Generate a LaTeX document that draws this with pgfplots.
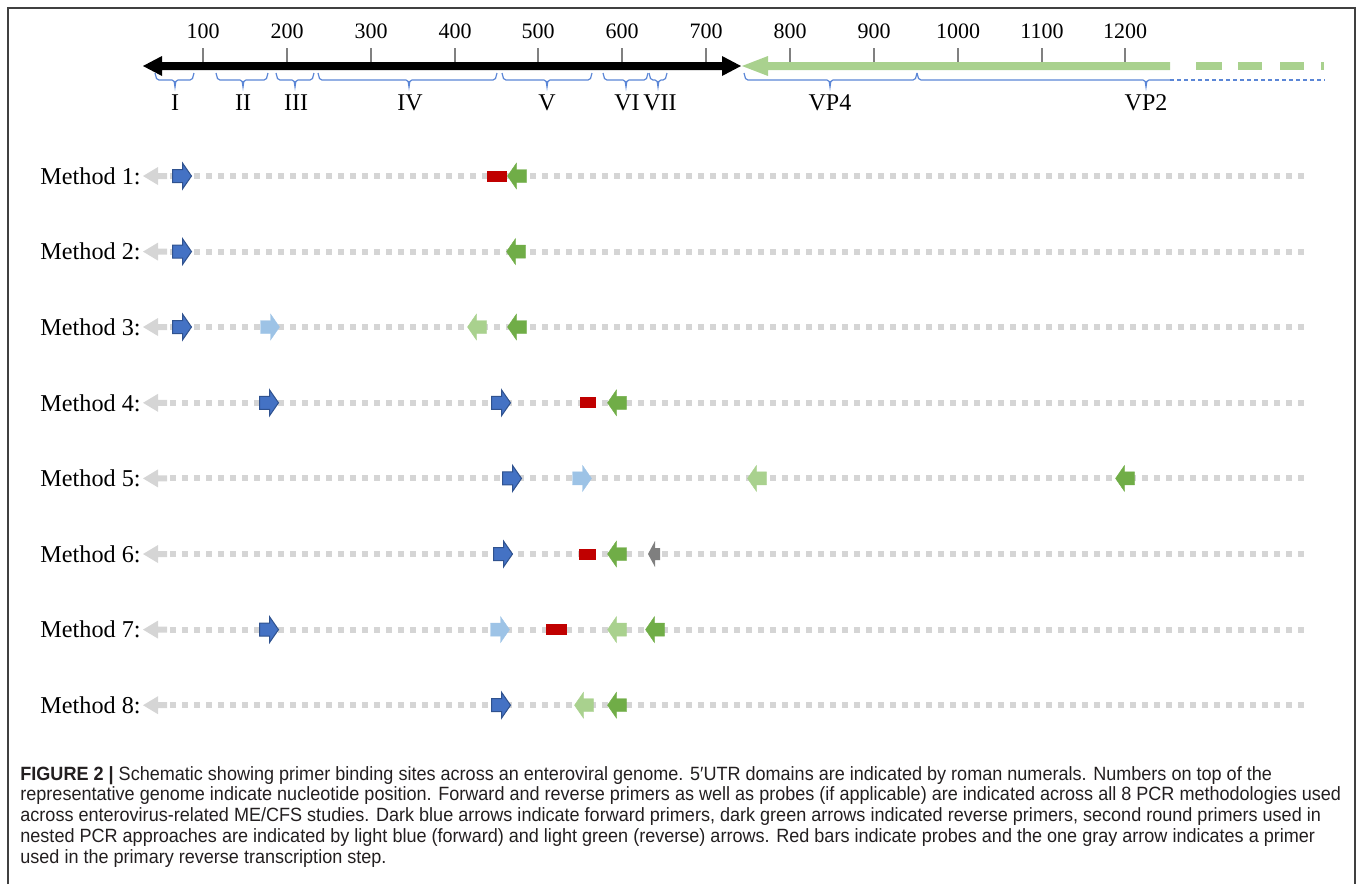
\documentclass[border=0pt]{standalone}
\usepackage{fontspec}
\setmainfont{Liberation Serif}
\newfontfamily\capfont[FakeStretch=0.94]{Liberation Sans}
\usepackage{pgfplots}
\pgfplotsset{compat=1.18}

\definecolor{fwdblue}{HTML}{4472C4}
\definecolor{fwdedge}{HTML}{2F528F}
\definecolor{nestblue}{HTML}{9DC3E6}
\definecolor{revgreen}{HTML}{70AD47}
\definecolor{nestgreen}{HTML}{A9D18E}
\definecolor{probered}{HTML}{C00000}
\definecolor{rtgray}{HTML}{7F7F7F}
\definecolor{trackgray}{HTML}{D5D5D5}
\definecolor{bracebl}{HTML}{5B86D6}
\definecolor{framegray}{HTML}{404040}
\definecolor{captext}{HTML}{231F20}

% 1 px of the reference = 0.5pt; primer arrows 19px long, head 26px high
\pgfdeclareplotmark{fwd}{%
  \pgfpathmoveto{\pgfpoint{-4.75pt}{3.25pt}}%
  \pgfpathlineto{\pgfpoint{0.25pt}{3.25pt}}%
  \pgfpathlineto{\pgfpoint{0.25pt}{6.5pt}}%
  \pgfpathlineto{\pgfpoint{4.75pt}{0pt}}%
  \pgfpathlineto{\pgfpoint{0.25pt}{-6.5pt}}%
  \pgfpathlineto{\pgfpoint{0.25pt}{-3.25pt}}%
  \pgfpathlineto{\pgfpoint{-4.75pt}{-3.25pt}}%
  \pgfpathclose\pgfusepathqfillstroke}
\pgfdeclareplotmark{rev}{%
  \pgfpathmoveto{\pgfpoint{4.75pt}{3.25pt}}%
  \pgfpathlineto{\pgfpoint{-0.25pt}{3.25pt}}%
  \pgfpathlineto{\pgfpoint{-0.25pt}{6.5pt}}%
  \pgfpathlineto{\pgfpoint{-4.75pt}{0pt}}%
  \pgfpathlineto{\pgfpoint{-0.25pt}{-6.5pt}}%
  \pgfpathlineto{\pgfpoint{-0.25pt}{-3.25pt}}%
  \pgfpathlineto{\pgfpoint{4.75pt}{-3.25pt}}%
  \pgfpathclose\pgfusepathqfillstroke}
\pgfdeclareplotmark{rt}{%
  \pgfpathmoveto{\pgfpoint{3pt}{3pt}}%
  \pgfpathlineto{\pgfpoint{0.5pt}{3pt}}%
  \pgfpathlineto{\pgfpoint{0.5pt}{6.5pt}}%
  \pgfpathlineto{\pgfpoint{-3pt}{0pt}}%
  \pgfpathlineto{\pgfpoint{0.5pt}{-6.5pt}}%
  \pgfpathlineto{\pgfpoint{0.5pt}{-3pt}}%
  \pgfpathlineto{\pgfpoint{3pt}{-3pt}}%
  \pgfpathclose\pgfusepathqfill}
% start of each track, tip at the plotted point
\pgfdeclareplotmark{trackstart}{%
  \pgfpathmoveto{\pgfpoint{0pt}{0pt}}%
  \pgfpathlineto{\pgfpoint{7.5pt}{4.5pt}}%
  \pgfpathlineto{\pgfpoint{7.5pt}{1.5pt}}%
  \pgfpathlineto{\pgfpoint{12pt}{1.5pt}}%
  \pgfpathlineto{\pgfpoint{12pt}{-1.5pt}}%
  \pgfpathlineto{\pgfpoint{7.5pt}{-1.5pt}}%
  \pgfpathlineto{\pgfpoint{7.5pt}{-4.5pt}}%
  \pgfpathclose\pgfusepathqfill}

% brace under a genome region: from #1 to #2, tip at #3
\newcommand\regionbrace[3]{%
  \edef\tmp{\noexpand\addplot[bracebl, line width=0.6pt] coordinates {
    (#1,73) (\fpeval{#1+1.5},78.5) (\fpeval{#1+4},80) (\fpeval{#3-3},80)
    (\fpeval{#3-0.8},81.5) (#3,87) (\fpeval{#3+0.8},81.5) (\fpeval{#3+3},80)
    (\fpeval{#2-4},80) (\fpeval{#2-1.5},78.5) (#2,73)};}\tmp}

\tikzset{
  numlab/.style={font=\fontsize{11pt}{13pt}\selectfont, inner sep=0pt},
  domlab/.style={font=\fontsize{12pt}{14pt}\selectfont, inner sep=0pt},
  methlab/.style={font=\fontsize{12.1pt}{14pt}\selectfont, inner sep=0pt, anchor=east},
  capline/.style={font=\capfont\fontsize{9.6pt}{12pt}\selectfont, text=captext, inner sep=0pt, anchor=base west},
}

\begin{document}
\begin{tikzpicture}
\begin{axis}[
    scale only axis,
    width=679pt, height=442pt,
    xmin=0, xmax=1358, ymin=0, ymax=884,
    y dir=reverse,
    hide axis,
    clip=false,
  ]
% page extent and frame
\addplot[draw=none] coordinates {(0,0) (1358,884)};
\addplot[framegray, line width=1pt] coordinates {(8,884) (8,8) (1355,8) (1355,884)};

% genome: 5'UTR (black, double headed) and capsid (green)
\addplot[fill=black, draw=none] coordinates {
  (143,66) (162,56) (162,62) (722,62) (722,56) (741,66)
  (722,76) (722,70) (162,70) (162,76)};
\addplot[fill=nestgreen, draw=none] coordinates {
  (742,66) (768,56) (768,62) (1170,62) (1170,70) (768,70) (768,76)};
\addplot[fill=nestgreen, draw=none] coordinates {(1196,62) (1222,62) (1222,70) (1196,70)};
\addplot[fill=nestgreen, draw=none] coordinates {(1238,62) (1262,62) (1262,70) (1238,70)};
\addplot[fill=nestgreen, draw=none] coordinates {(1280,62) (1304,62) (1304,70) (1280,70)};
\addplot[fill=nestgreen, draw=none] coordinates {(1321,62) (1324,62) (1324,70) (1321,70)};

% nucleotide ticks
\addplot[gray, line width=0.6pt, unbounded coords=jump] table {
x y
203 48
203 62
nan nan
287 48
287 62
nan nan
371 48
371 62
nan nan
455 48
455 62
nan nan
538 48
538 62
nan nan
622 48
622 62
nan nan
706 48
706 62
nan nan
790 48
790 62
nan nan
874 48
874 62
nan nan
958 48
958 62
nan nan
1042 48
1042 62
nan nan
1125 48
1125 62
};
\node[numlab] at (axis cs:203,31) {100};
\node[numlab] at (axis cs:287,31) {200};
\node[numlab] at (axis cs:371,31) {300};
\node[numlab] at (axis cs:455,31) {400};
\node[numlab] at (axis cs:538,31) {500};
\node[numlab] at (axis cs:622,31) {600};
\node[numlab] at (axis cs:706,31) {700};
\node[numlab] at (axis cs:790,31) {800};
\node[numlab] at (axis cs:874,31) {900};
\node[numlab] at (axis cs:958,31) {1000};
\node[numlab] at (axis cs:1042,31) {1100};
\node[numlab] at (axis cs:1125,31) {1200};

% 5'UTR domains and capsid proteins
\regionbrace{155}{194}{175}
\regionbrace{216}{268}{243}
\regionbrace{276}{314}{295}
\regionbrace{318}{497}{409}
\regionbrace{502}{592}{547}
\regionbrace{603}{648}{626}
\regionbrace{649}{667}{658}
\regionbrace{744}{917}{830}
\addplot[bracebl, line width=0.6pt] coordinates {
  (917,73) (918.5,78.5) (921,80) (1143,80) (1145.2,81.5) (1146,87)
  (1146.8,81.5) (1149,80) (1170,80)};
\addplot[bracebl, line width=0.6pt, dash pattern=on 2pt off 1.5pt] coordinates {(1170,80) (1325,80)};
\node[domlab] at (axis cs:175,103) {I};
\node[domlab] at (axis cs:243,103) {II};
\node[domlab] at (axis cs:296,103) {III};
\node[domlab] at (axis cs:410,103) {IV};
\node[domlab] at (axis cs:547,103) {V};
\node[domlab] at (axis cs:627,103) {VI};
\node[domlab] at (axis cs:660,103) {VII};
\node[domlab] at (axis cs:830,103) {VP4};
\node[domlab] at (axis cs:1146,103) {VP2};

% tracks of the 8 methods
\addplot[trackgray, line width=3pt, dash pattern=on 3pt off 3pt, unbounded coords=jump] table {
x y
170 176
1305 176
nan nan
170 251.6
1305 251.6
nan nan
170 327
1305 327
nan nan
170 402.8
1305 402.8
nan nan
170 478.4
1305 478.4
nan nan
170 554
1305 554
nan nan
170 629.6
1305 629.6
nan nan
170 705.2
1305 705.2
};
\addplot[only marks, mark=trackstart, mark options={fill=trackgray, draw=none}] coordinates {
  (143,176) (143,251.6) (143,327) (143,402.8) (143,478.4) (143,554) (143,629.6) (143,705.2)};
\node[methlab] at (axis cs:141,176) {Method 1:};
\node[methlab] at (axis cs:141,251.6) {Method 2:};
\node[methlab] at (axis cs:141,327) {Method 3:};
\node[methlab] at (axis cs:141,402.8) {Method 4:};
\node[methlab] at (axis cs:141,478.4) {Method 5:};
\node[methlab] at (axis cs:141,554) {Method 6:};
\node[methlab] at (axis cs:141,629.6) {Method 7:};
\node[methlab] at (axis cs:141,705.2) {Method 8:};

% probes
\addplot[fill=probered, draw=none] coordinates {(487,170.5) (507,170.5) (507,181.5) (487,181.5)};
\addplot[fill=probered, draw=none] coordinates {(580,397.3) (596,397.3) (596,408.3) (580,408.3)};
\addplot[fill=probered, draw=none] coordinates {(579,548.5) (596,548.5) (596,559.5) (579,559.5)};
\addplot[fill=probered, draw=none] coordinates {(546,624.1) (567,624.1) (567,635.1) (546,635.1)};

% forward primers
\addplot[only marks, mark=fwd, mark options={fill=fwdblue, draw=fwdedge, line width=0.5pt}] coordinates {
  (182,176) (182,251.6) (182,327) (269,402.8) (501,402.8) (512,478.4)
  (503,554) (269,629.6) (501,705.2)};
\addplot[only marks, mark=fwd, mark options={fill=nestblue, draw=nestblue, line width=0.2pt}] coordinates {
  (270,327) (582,478.4) (500,629.6)};
% reverse primers
\addplot[only marks, mark=rev, mark options={fill=revgreen, draw=revgreen, line width=0.2pt}] coordinates {
  (517,176) (516,251.6) (517,327) (617,402.8) (1125,478.4) (617,554) (655,629.6) (617,705.2)};
\addplot[only marks, mark=rev, mark options={fill=nestgreen, draw=nestgreen, line width=0.2pt}] coordinates {
  (477,327) (757,478.4) (617,629.6) (584,705.2)};
% reverse transcription primer
\addplot[only marks, mark=rt, mark options={fill=rtgray, draw=none}] coordinates {(654,554)};

% caption
\node[capline] at (axis cs:20,780) {\textbf{FIGURE 2 |} Schematic showing primer binding sites across an enteroviral genome. 5′UTR domains are indicated by roman numerals. Numbers on top of the};
\node[capline] at (axis cs:20,800.75) {representative genome indicate nucleotide position. Forward and reverse primers as well as probes (if applicable) are indicated across all 8 PCR methodologies used};
\node[capline] at (axis cs:20,821.5) {across enterovirus-related ME/CFS studies. Dark blue arrows indicate forward primers, dark green arrows indicated reverse primers, second round primers used in};
\node[capline] at (axis cs:20,842.25) {nested PCR approaches are indicated by light blue (forward) and light green (reverse) arrows. Red bars indicate probes and the one gray arrow indicates a primer};
\node[capline] at (axis cs:20,863) {used in the primary reverse transcription step.};
\end{axis}
\end{tikzpicture}
\end{document}
